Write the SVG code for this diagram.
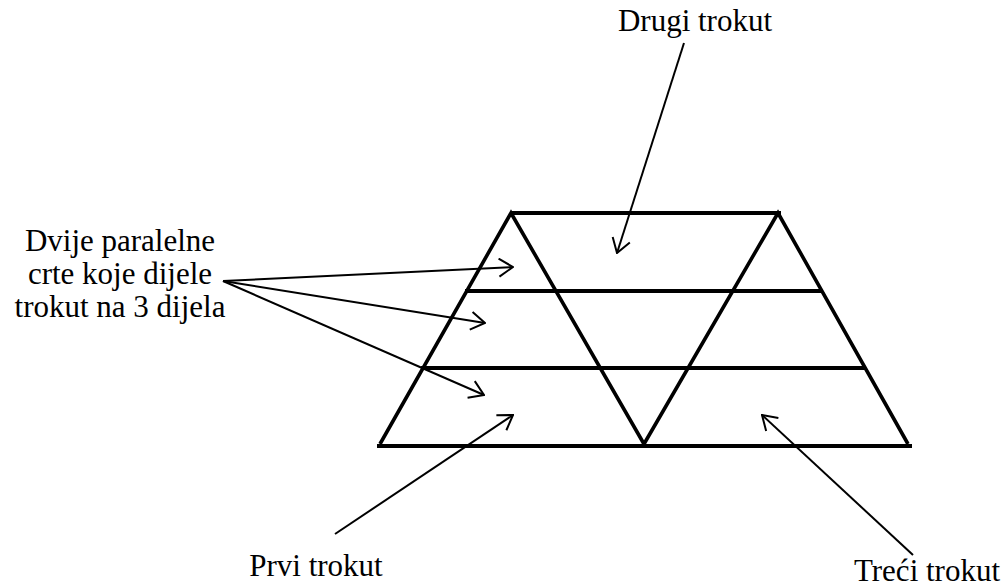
<svg xmlns="http://www.w3.org/2000/svg" width="1001" height="586" viewBox="0 0 1001 586">
<style>
.fig{stroke:#000;stroke-width:4;fill:none;stroke-linecap:square}
.diag{stroke:#000;stroke-width:3.6;fill:none;stroke-linejoin:miter}
.arr{stroke:#000;stroke-width:2;fill:none}
.lbl{font-size:31px;fill:#000}
</style>
<defs>
<marker id="ah" viewBox="0 0 16 20" refX="15" refY="10" markerWidth="16" markerHeight="20" markerUnits="userSpaceOnUse" orient="auto">
<path d="M1,1 L15,10 L1,19" fill="none" stroke="#000" stroke-width="2"/>
</marker>
</defs>
<rect width="1001" height="586" fill="#fff"/>
<g id="figure">
<line class="fig" x1="513" y1="213" x2="779" y2="213"/>
<line class="fig" x1="379" y1="446" x2="910" y2="446"/>
<line class="fig" x1="467" y1="291" x2="821" y2="291"/>
<line class="fig" x1="423" y1="368" x2="864" y2="368"/>
<polyline class="diag" points="380,444 511,213 644,444"/>
<polyline class="diag" points="644,444 778,213 908,444"/>
</g>
<g id="label-drugi"><text class="lbl" font-family="Liberation Serif" x="695" y="31" text-anchor="middle">Drugi trokut</text></g>
<g id="label-dvije">
<text class="lbl" font-family="Liberation Serif" x="120" y="251" text-anchor="middle">Dvije paralelne</text>
<text class="lbl" font-family="Liberation Serif" x="120" y="284" text-anchor="middle">crte koje dijele</text>
<text class="lbl" font-family="Liberation Serif" x="120" y="317" text-anchor="middle">trokut na 3 dijela</text>
</g>
<g id="label-prvi"><text class="lbl" font-family="Liberation Serif" x="316" y="576" text-anchor="middle">Prvi trokut</text></g>
<g id="label-treci"><text class="lbl" font-family="Liberation Serif" x="927" y="581" text-anchor="middle">Treći trokut</text></g>
<g id="connectors">
<line class="arr" x1="684" y1="43" x2="617" y2="253" marker-end="url(#ah)"/>
<line class="arr" x1="223" y1="281" x2="513" y2="267" marker-end="url(#ah)"/>
<line class="arr" x1="223" y1="281" x2="485" y2="323" marker-end="url(#ah)"/>
<line class="arr" x1="223" y1="281" x2="484" y2="395" marker-end="url(#ah)"/>
<line class="arr" x1="335" y1="534" x2="513" y2="415" marker-end="url(#ah)"/>
<line class="arr" x1="913" y1="555" x2="762" y2="415" marker-end="url(#ah)"/>
</g>
</svg>
